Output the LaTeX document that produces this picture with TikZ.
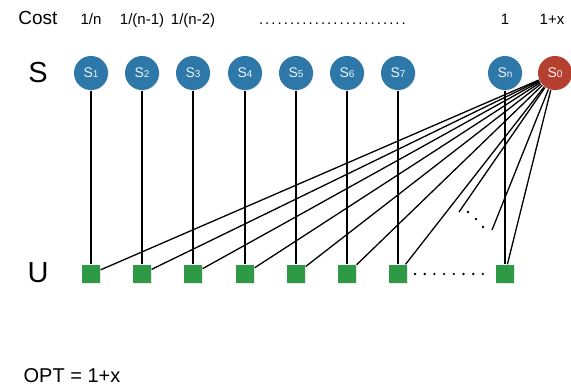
\documentclass[tikz,border=0pt]{standalone}
\usepackage{fontspec}
\setmainfont{Liberation Sans}
\usetikzlibrary{shadows}
\definecolor{setblue}{HTML}{2D77A9}
\definecolor{setred}{HTML}{B6402F}
\definecolor{elemgreen}{HTML}{2E9A45}
\newcommand{\fsz}[1]{\fontsize{#1}{#1}\selectfont}
\newcommand{\setname}[1]{S{\fsz{10}#1}}
\tikzset{
    sset/.style={circle, fill=setblue, minimum size=34pt, inner sep=0pt,
        text=white!92!setblue, font=\fsz{14},
        drop shadow={opacity=0.25, shadow xshift=0.6pt, shadow yshift=-0.6pt}},
    elem/.style={rectangle, fill=elemgreen, minimum size=18pt, inner sep=0pt,
        drop shadow={opacity=0.2, shadow xshift=0.6pt, shadow yshift=-0.6pt}},
    costlab/.style={anchor=base, font=\fsz{15}}
}
\begin{document}
\begin{tikzpicture}[x=1pt, y=-1pt, line width=1.3pt]
    \useasboundingbox (0,0) rectangle (571,387);
    % 1. Nhãn hàng
    \node[anchor=base, font=\fsz{19}] (cost) at (38,25) {Cost};
    \node[anchor=base, font=\fsz{29}] (lbls) at (38,83) {S};
    \node[anchor=base, font=\fsz{29}] (lblu) at (38,283) {U};
    \node[anchor=base west, font=\fsz{20}, inner sep=0pt] (opt) at (23,383) {OPT = 1+x};

    % 2. Chi phí
    \node[costlab] (c1) at (91,25) {1/n};
    \node[costlab] (c2) at (142,25) {1/(n-1)};
    \node[costlab] (c3) at (193,25) {1/(n-2)};
    \node[costlab] (cdots) at (334,25) {\makebox[152pt]{\leaders\hbox to 6.2pt{\hss.\hss}\hfill}};
    \node[costlab] (cn) at (505,25) {1};
    \node[costlab] (c0) at (552,25) {1+x};

    % 3. Các tập S_i và phần tử U
    \foreach \i/\x in {1/91,2/142,3/193,4/245,5/296,6/347,7/398,n/505} {
        \node[elem] (u\i) at (\x,274) {};
        \node[sset] (s\i) at (\x,73) {\setname{\i}};
        \draw (s\i) -- (u\i);
    }
    \node[sset, fill=setred, text=white!92!setred] (s0) at (555,73) {\setname{0}};

    % 4. Các cạnh từ S_0
    \foreach \i in {1,...,7,n} {
        \draw (s0) -- (u\i);
    }
    \coordinate (e1) at (459,212);
    \coordinate (e2) at (492,230);
    \draw (s0) -- (e1);
    \draw (s0) -- (e2);

    % 5. Dấu chấm
    \foreach \x/\y in {468/212,476/219,483/227} {
        \fill (\x,\y) circle (1.3pt);
    }
    \foreach \k in {0,...,7} {
        \fill ({415+\k*9.7},274) circle (1.3pt);
    }
\end{tikzpicture}
\end{document}
